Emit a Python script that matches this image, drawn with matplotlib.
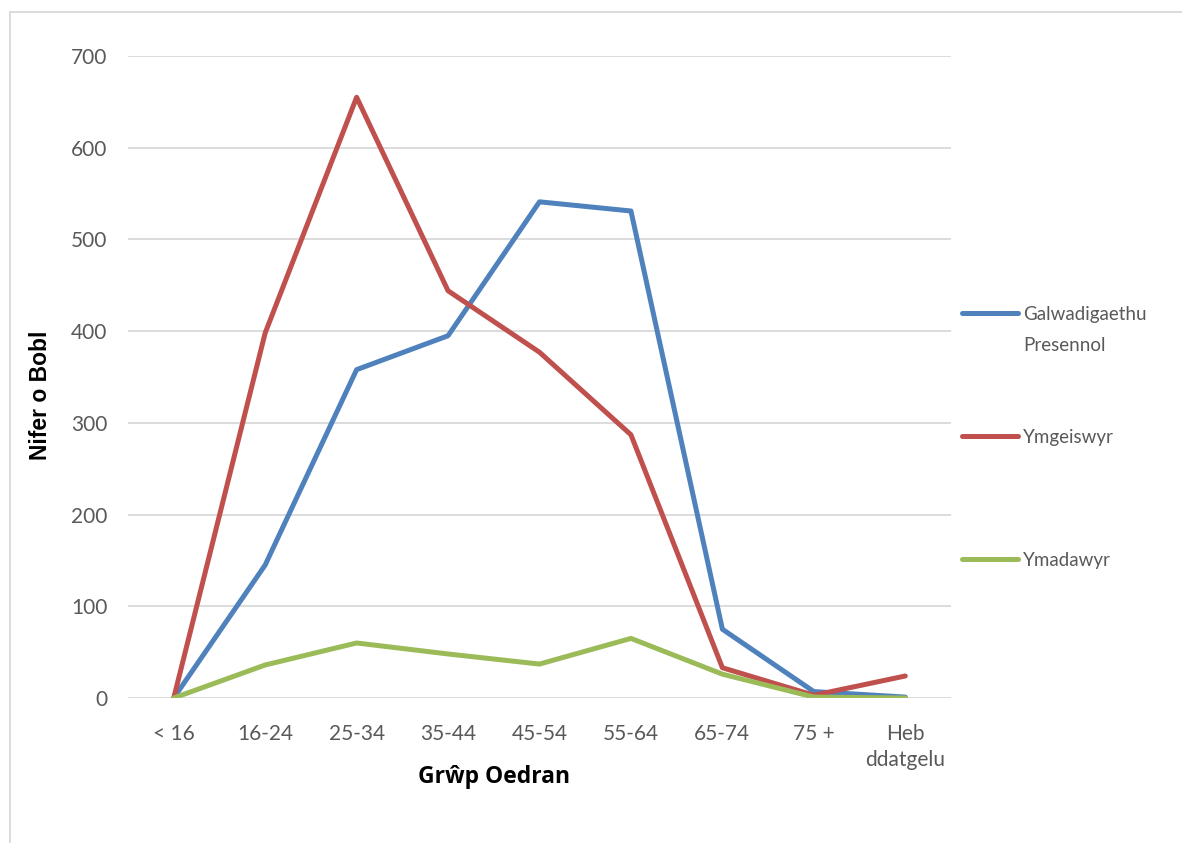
import matplotlib
matplotlib.use("Agg")
import matplotlib.pyplot as plt
from matplotlib.lines import Line2D

plt.rcParams['font.family'] = ['Lato', 'DejaVu Sans']

categories = ["< 16", "16-24", "25-34", "35-44", "45-54", "55-64", "65-74", "75 +", "Heb\nddatgelu"]
galwadigaethu = [0, 145, 358, 395, 541, 531, 75, 7, 1]
ymgeiswyr = [0, 398, 655, 444, 377, 287, 33, 3, 24]
ymadawyr = [0, 36, 60, 48, 37, 65, 26, 1, 0]
series_names = ["Galwadigaethu", "Ymgeiswyr", "Ymadawyr"]
name_second_line = "Presennol"
colors = ["#4F81BD", "#C0504D", "#9BBB59"]
text_color = "#595959"

fig = plt.figure(figsize=(11.82, 8.43), dpi=100)
ax = fig.add_axes([128/1182, 1-698/843, (951-128)/1182, (698-56)/843])

x = list(range(len(categories)))
for vals, name, c in zip([galwadigaethu, ymgeiswyr, ymadawyr], series_names, colors):
    ax.plot(x, vals, color=c, lw=3.6, label=name, solid_capstyle='round', solid_joinstyle='round')

ax.set_xlim(-0.5, len(categories) - 0.5)
ax.set_ylim(0, 700)
ax.set_yticks(range(0, 701, 100))
ax.set_xticks(x)
ax.set_xticklabels(categories, fontsize=15, color=text_color, linespacing=1.35)
ax.tick_params(axis='y', labelsize=15, labelcolor=text_color, length=0, pad=15)
ax.tick_params(axis='x', length=0, pad=19)
ax.grid(axis='y', color="#D9D9D9", lw=1.3)
ax.set_axisbelow(True)
for s in ax.spines.values():
    s.set_visible(False)

ax.set_xlabel("Grŵp Oedran", fontsize=16.5, fontweight='bold', family=['Open Sans', 'DejaVu Sans'])
ax.set_ylabel("Nifer o Bobl", fontsize=16.5, fontweight='bold', family=['Liberation Sans', 'DejaVu Sans'])
ax.xaxis.set_label_coords((494-128)/(951-128), -(777-698)/(698-56))
ax.yaxis.set_label_coords(-(128-40)/(951-128), (698-395)/(698-56))
ax.xaxis.label.set_va('center')
ax.yaxis.label.set_va('center')

leg = ax.legend(loc='upper left', bbox_to_anchor=(962/1182, 1-306/843), bbox_transform=fig.transFigure,
                frameon=False, fontsize=13.5, labelspacing=5.65, handlelength=3.0, handletextpad=0.25,
                borderpad=0, borderaxespad=0, labelcolor=text_color)

# second line of the first legend label, placed under the first line
fig.canvas.draw()
bb = leg.get_texts()[0].get_window_extent()
fig.text(bb.x0 / fig.bbox.width, (bb.y0 - 14) / fig.bbox.height, name_second_line,
         ha='left', va='top', fontsize=13.5, color=text_color)

# chart frame
fig.add_artist(Line2D([10/1182, 10/1182], [0, 1-12/843], color="#D9D9D9", lw=1.3, transform=fig.transFigure))
fig.add_artist(Line2D([10/1182, 1], [1-12/843, 1-12/843], color="#D9D9D9", lw=1.3, transform=fig.transFigure))

fig.savefig("out.png", dpi=100, facecolor="white")
